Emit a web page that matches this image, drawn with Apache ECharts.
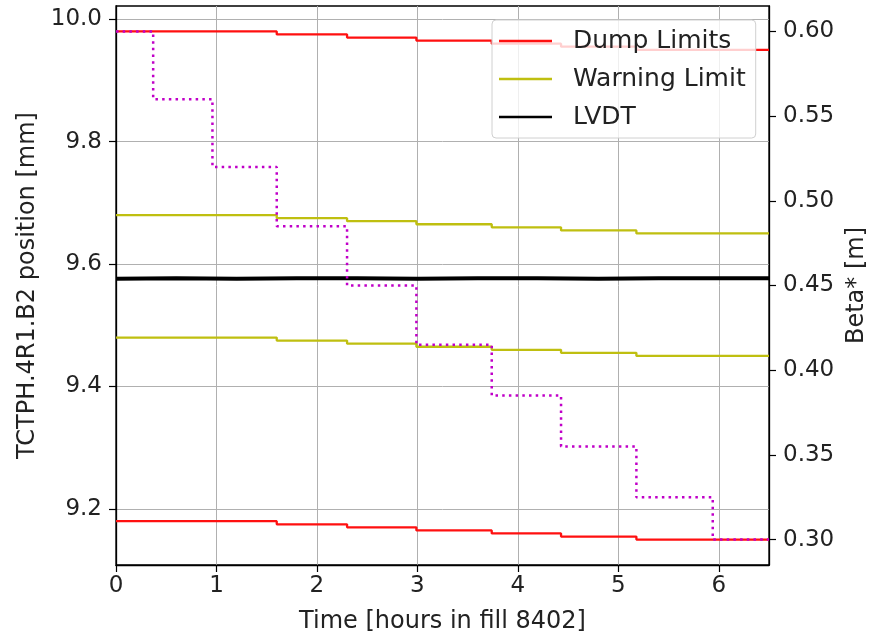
<!DOCTYPE html>
<html>
<head>
<meta charset="utf-8">
<script src="https://cdn.jsdelivr.net/npm/echarts@6/dist/echarts.min.js"></script>
<style>
  html, body { margin: 0; padding: 0; background: #fff; }
  #chart { width: 869px; height: 635px; }
</style>
</head>
<body>
<div id="chart"></div>
<script>
// Collimator limit steps during the fill (hours) and their values (mm)
const limitTimes = [0, 1.6, 2.3, 2.99, 3.74, 4.43, 5.18];
const dumpUpper  = [9.98, 9.975, 9.97, 9.965, 9.96, 9.955, 9.95];
const warnUpper  = [9.68, 9.675, 9.67, 9.665, 9.66, 9.655, 9.65];
const warnLower  = [9.48, 9.475, 9.47, 9.465, 9.46, 9.455, 9.45];
const dumpLower  = [9.18, 9.175, 9.17, 9.165, 9.16, 9.155, 9.15];

// Measured jaw position (LVDT), mm
const lvdtTimes  = [0, 0.6, 1.2, 1.8, 2.4, 3.0, 3.6, 4.2, 4.8, 5.4, 6.0, 6.5];
const lvdtValues = [9.576, 9.577, 9.576, 9.577, 9.577, 9.576, 9.577, 9.577, 9.576, 9.577, 9.577, 9.577];

// Beta* levelling steps (hours, m)
const betaTimes  = [0, 0.37, 0.96, 1.6, 2.3, 2.99, 3.74, 4.43, 5.18, 5.94];
const betaValues = [0.60, 0.56, 0.52, 0.485, 0.45, 0.415, 0.385, 0.355, 0.325, 0.30];

// Axis ranges and tick labels
const tEnd = 6.5;
const xTicks = [0, 1, 2, 3, 4, 5, 6];
const posTicks = [9.2, 9.4, 9.6, 9.8, 10.0];
const betaTicks = [0.30, 0.35, 0.40, 0.45, 0.50, 0.55, 0.60];
const posRange = [9.1085, 10.0215];
const betaRange = [0.285, 0.615];

const FONT = 'DejaVu Sans';

// Build step data, extended to the end of the time window
function steps(times, values) {
  const pts = times.map((t, i) => [t, values[i]]);
  pts.push([tEnd, values[values.length - 1]]);
  return pts;
}

function stepSeries(name, times, values, color) {
  return {
    name: name, type: 'line', step: 'end', xAxisIndex: 0, yAxisIndex: 0,
    data: steps(times, values), showSymbol: false, symbol: 'none',
    lineStyle: { color: color, width: 2.3 }, itemStyle: { color: color },
    animation: false, z: 3
  };
}

const chart = echarts.init(document.getElementById('chart'), null, { renderer: 'canvas' });

const axisText = { color: '#222', fontFamily: FONT, fontSize: 23 };

chart.setOption({
  animation: false,
  backgroundColor: '#fff',
  grid: {
    left: 116, right: 100, top: 6, bottom: 70,
    outerBoundsMode: 'none', containLabel: false,
    show: true, borderColor: '#000', borderWidth: 1.3, backgroundColor: 'transparent'
  },
  legend: {
    data: ['Dump Limits', 'Warning Limit', 'LVDT'],
    orient: 'vertical', left: 492, top: 20,
    padding: [8, 10, 8, 7],
    itemWidth: 53, itemHeight: 2.5, itemGap: 12,
    icon: 'rect',
    backgroundColor: 'rgba(255,255,255,0.8)',
    borderColor: '#d0d0d0', borderWidth: 1, borderRadius: 4,
    textStyle: { fontFamily: FONT, fontSize: 25, color: '#222', lineHeight: 26, padding: [0, 0, 0, 16] },
    z: 10
  },
  xAxis: {
    type: 'value', min: 0, max: tEnd,
    name: 'Time [hours in fill 8402]', nameLocation: 'middle', nameGap: 45,
    nameTextStyle: { fontFamily: FONT, fontSize: 24, color: '#222' },
    axisLine: { show: true, lineStyle: { color: '#000', width: 1.3 } },
    axisTick: { show: true, length: 7, customValues: xTicks, lineStyle: { color: '#000', width: 1.2 } },
    axisLabel: Object.assign({ margin: 10, customValues: xTicks, formatter: v => String(v) }, axisText),
    splitLine: { show: true, lineStyle: { color: '#b0b0b0', width: 1 } }
  },
  yAxis: [
    {
      type: 'value', position: 'left', min: posRange[0], max: posRange[1],
      name: 'TCTPH.4R1.B2 position [mm]', nameLocation: 'middle', nameGap: 72, nameRotate: 90,
      nameTextStyle: { fontFamily: FONT, fontSize: 24, color: '#222' },
      axisLine: { show: true, lineStyle: { color: '#000', width: 1.3 } },
      axisTick: { show: true, length: 7, customValues: posTicks, lineStyle: { color: '#000', width: 1.2 } },
      axisLabel: Object.assign({ margin: 14, customValues: posTicks, formatter: v => v.toFixed(1) }, axisText),
      splitLine: { show: true, lineStyle: { color: '#b0b0b0', width: 1 } }
    },
    {
      type: 'value', position: 'right', min: betaRange[0], max: betaRange[1],
      name: 'Beta* [m]', nameLocation: 'middle', nameGap: 74, nameRotate: 90,
      nameTextStyle: { fontFamily: FONT, fontSize: 24, color: '#222' },
      axisLine: { show: true, lineStyle: { color: '#000', width: 1.3 } },
      axisTick: { show: true, length: 7, customValues: betaTicks, lineStyle: { color: '#000', width: 1.2 } },
      axisLabel: Object.assign({ margin: 14, customValues: betaTicks, formatter: v => v.toFixed(2) }, axisText),
      splitLine: { show: false }
    }
  ],
  series: [
    stepSeries('Dump Limits', limitTimes, dumpUpper, '#ff1010'),
    stepSeries('Warning Limit', limitTimes, warnUpper, '#bfbf10'),
    {
      name: 'LVDT', type: 'line', xAxisIndex: 0, yAxisIndex: 0,
      data: lvdtTimes.map((t, i) => [t, lvdtValues[i]]),
      showSymbol: false, symbol: 'none',
      lineStyle: { color: '#000', width: 4 }, itemStyle: { color: '#000' }, z: 4
    },
    stepSeries('Warning Limit', limitTimes, warnLower, '#bfbf10'),
    stepSeries('Dump Limits', limitTimes, dumpLower, '#ff1010'),
    {
      name: 'Beta*', type: 'line', step: 'end', xAxisIndex: 0, yAxisIndex: 1,
      data: steps(betaTimes, betaValues), showSymbol: false, symbol: 'none',
      lineStyle: { color: '#c000c8', width: 2.5, type: [2.5, 4.2] },
      itemStyle: { color: '#c000c8' }, z: 5
    }
  ]
});
</script>
</body>
</html>
